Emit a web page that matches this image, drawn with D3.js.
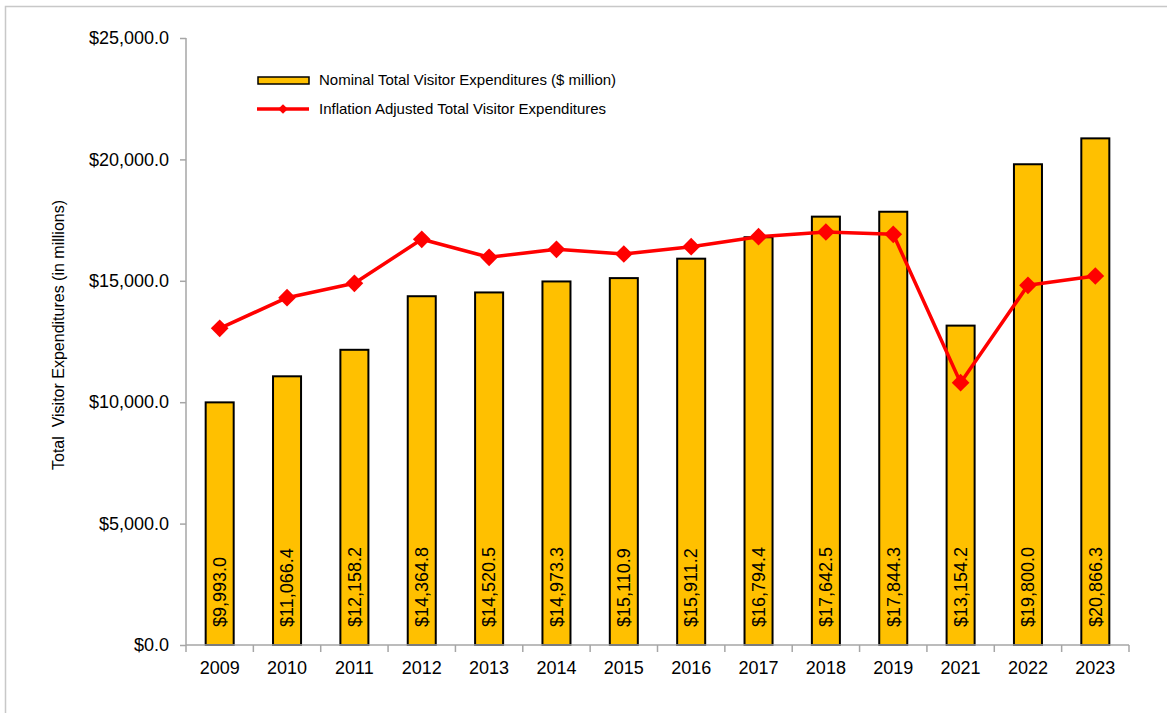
<!DOCTYPE html>
<html>
<head>
<meta charset="utf-8">
<script src="https://cdn.jsdelivr.net/npm/d3@7"></script>
<style>
  body { margin: 0; background: #fff; }
  text { font-family: "Liberation Sans", Arial, sans-serif; fill: #000; }
</style>
</head>
<body>
<svg width="1167" height="713"></svg>
<script>
// data
var years = ["2009","2010","2011","2012","2013","2014","2015","2016","2017","2018","2019","2021","2022","2023"];
var nominal = [9993.0, 11066.4, 12158.2, 14364.8, 14520.5, 14973.3, 15110.9, 15911.2, 16794.4, 17642.5, 17844.3, 13154.2, 19800.0, 20866.3];
var adjusted = [13044, 14304, 14897, 16709, 15968, 16297, 16104, 16405, 16817, 17010, 16915, 10803, 14815, 15198];
var yTicks = [0, 5000, 10000, 15000, 20000, 25000];
var legendLabels = ["Nominal Total Visitor Expenditures ($ million)", "Inflation Adjusted Total Visitor Expenditures"];

var svg = d3.select("svg");
var plotLeft = 186, plotRight = 1129, plotTop = 38, plotBottom = 645;
var axisColor = "#a6a6a6";

// outer frame
svg.append("rect").attr("x", 5.5).attr("y", 6.5).attr("width", 1200).attr("height", 800)
  .attr("fill", "none").attr("stroke", "#c8c8c8").attr("stroke-width", 1.5);

var x = d3.scaleBand().domain(years).range([plotLeft, plotRight]).paddingInner(0.584).paddingOuter(0.292);
var y = d3.scaleLinear().domain([0, 25000]).range([plotBottom, plotTop]);
var fmt = d3.format(",.1f");

// y axis
var yAxis = svg.append("g").attr("transform", "translate(" + plotLeft + ",0)")
  .call(d3.axisLeft(y).tickValues(yTicks).tickSize(6).tickPadding(11).tickFormat(function(d){ return "$" + fmt(d); }));
yAxis.select(".domain").attr("stroke", axisColor).attr("stroke-width", 1.5).attr("d", "M0," + plotTop + "V" + plotBottom);
yAxis.selectAll(".tick line").attr("stroke", axisColor).attr("stroke-width", 1.5);
yAxis.selectAll("text").style("font-size", "18px").attr("fill", "#000").style("font-family", "Liberation Sans, Arial, sans-serif");

// x axis with ticks between categories
var xg = svg.append("g");
xg.selectAll(".xt").data(d3.range(years.length + 1)).join("line")
  .attr("x1", function(i){ return plotLeft + i * x.step(); })
  .attr("x2", function(i){ return plotLeft + i * x.step(); })
  .attr("y1", plotBottom).attr("y2", plotBottom + 7)
  .attr("stroke", axisColor).attr("stroke-width", 1.5);
xg.selectAll(".xl").data(years).join("text")
  .attr("x", function(d){ return x(d) + x.bandwidth() / 2; })
  .attr("y", 674).attr("text-anchor", "middle").style("font-size", "18px")
  .text(function(d){ return d; });

// bars
svg.selectAll(".bar").data(years).join("rect")
  .attr("x", function(d){ return x(d); })
  .attr("y", function(d, i){ return y(nominal[i]); })
  .attr("width", x.bandwidth())
  .attr("height", function(d, i){ return plotBottom - y(nominal[i]); })
  .attr("fill", "#FFC000").attr("stroke", "#000").attr("stroke-width", 2);

// axis line over bar bottoms
svg.append("line").attr("x1", plotLeft).attr("x2", plotRight).attr("y1", plotBottom).attr("y2", plotBottom)
  .attr("stroke", axisColor).attr("stroke-width", 1.5);

// bar value labels
svg.selectAll(".bl").data(years).join("text")
  .attr("transform", function(d){ return "translate(" + (x(d) + x.bandwidth() / 2) + ",627) rotate(-90)"; })
  .attr("dy", "0.35em").style("font-size", "18px")
  .text(function(d, i){ return "$" + fmt(nominal[i]); });

// inflation adjusted line
var line = d3.line().x(function(d, i){ return x(years[i]) + x.bandwidth() / 2; }).y(function(d){ return y(d); });
svg.append("path").datum(adjusted).attr("d", line)
  .attr("fill", "none").attr("stroke", "#FF0000").attr("stroke-width", 3.5).attr("stroke-linejoin", "round");
var diamond = d3.symbol().type(d3.symbolDiamond2).size(200);
svg.selectAll(".mk").data(adjusted).join("path")
  .attr("d", diamond)
  .attr("transform", function(d, i){ return "translate(" + (x(years[i]) + x.bandwidth() / 2) + "," + y(d) + ")"; })
  .attr("fill", "#FF0000");

// y title
svg.append("text").attr("transform", "translate(64,335) rotate(-90)")
  .attr("text-anchor", "middle").style("font-size", "16px").style("white-space", "pre")
  .text("Total  Visitor Expenditures (in millions)");

// legend
var lg = svg.append("g");
lg.append("rect").attr("x", 258).attr("y", 77).attr("width", 51).attr("height", 7)
  .attr("fill", "#FFC000").attr("stroke", "#000").attr("stroke-width", 1.5);
lg.append("text").attr("x", 319).attr("y", 80).attr("dy", "0.35em").style("font-size", "15px").text(legendLabels[0]);
lg.append("line").attr("x1", 257).attr("x2", 309).attr("y1", 109).attr("y2", 109)
  .attr("stroke", "#FF0000").attr("stroke-width", 3.5);
lg.append("path").attr("d", d3.symbol().type(d3.symbolDiamond2).size(60)).attr("transform", "translate(283,109)").attr("fill", "#FF0000");
lg.append("text").attr("x", 319).attr("y", 109).attr("dy", "0.35em").style("font-size", "15px").text(legendLabels[1]);
</script>
</body>
</html>
